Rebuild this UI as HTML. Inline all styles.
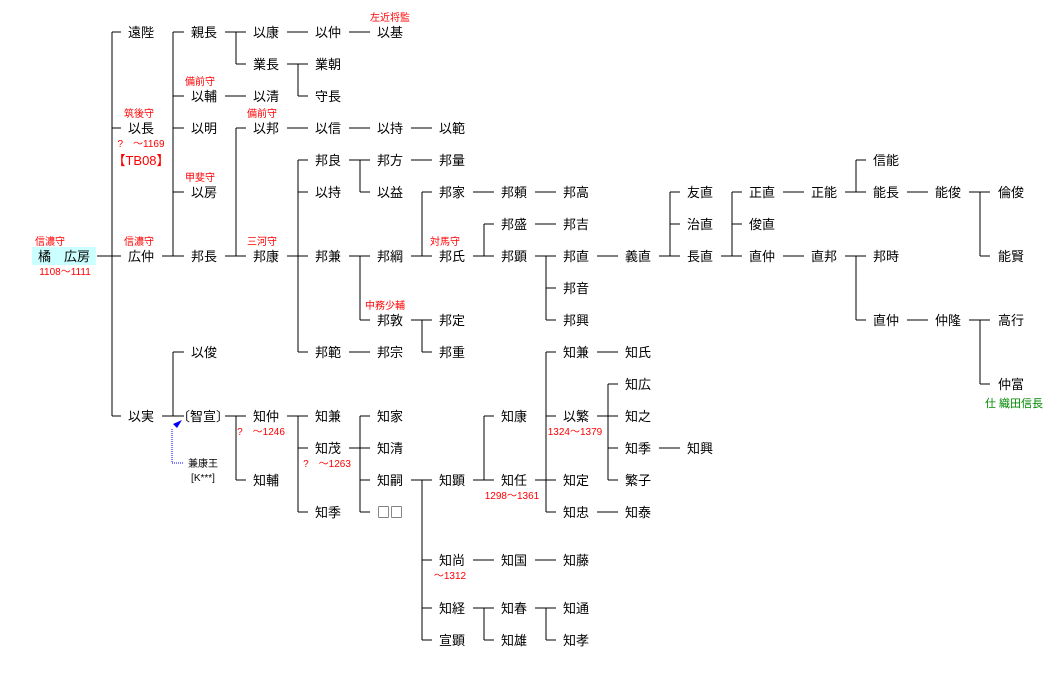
<!DOCTYPE html>
<html><head><meta charset="utf-8"><style>
html,body{margin:0;padding:0;background:#fff;}
svg{display:block;}
.n{font-family:"Liberation Sans","Noto Sans CJK JP",sans-serif;font-size:13px;fill:#000;text-anchor:middle;}
.b{font-family:"Noto Sans CJK JP",sans-serif;font-size:13px;fill:#000;text-anchor:middle;}
.r{font-family:"Liberation Sans","Noto Sans CJK JP",sans-serif;font-size:10px;fill:#f00;text-anchor:middle;}
.g{font-family:"Liberation Sans","Noto Sans CJK JP",sans-serif;font-size:11px;fill:#080;text-anchor:middle;}
.s{font-family:"Liberation Sans","Noto Sans CJK JP",sans-serif;font-size:10px;fill:#000;text-anchor:middle;}
</style></head><body>
<svg width="1045" height="673" viewBox="0 0 1045 673" xmlns="http://www.w3.org/2000/svg">
<rect x="32" y="247" width="64" height="18" fill="#ccffff"/>
<path fill="none" stroke="#000" stroke-width="1" shape-rendering="crispEdges" d="
M97 256H112 M112 32V416 M112 32H121 M112 128H121 M112 256H121 M112 416H121
M162 256H173 M173 32V256 M173 32H184 M173 96H184 M173 128H184 M173 192H184 M173 256H184
M225 32H236 M236 32V64 M236 32H246 M236 64H246
M287 32H308 M349 32H370
M287 64H298 M298 64V96 M298 64H308 M298 96H308
M225 96H246
M225 256H236 M236 128V256 M236 128H246 M236 256H246
M287 128H308 M349 128H370 M411 128H432
M287 256H298 M298 160V352 M298 160H308 M298 192H308 M298 256H308 M298 352H308
M349 160H360 M360 160V192 M360 160H370 M360 192H370
M411 160H432
M349 256H370 M360 256V320 M360 320H370
M349 352H370
M411 256H432 M422 192V256 M422 192H432
M411 320H432 M422 320V352 M422 352H432
M473 192H494 M535 192H556
M473 256H494 M484 224V256 M484 224H494
M535 224H556
M535 256H556 M546 256V320 M546 288H556 M546 320H556
M597 256H618
M659 256H680 M670 192V256 M670 192H680 M670 224H680
M721 256H742 M732 192V256 M732 192H742 M732 224H742
M783 192H804
M845 192H866 M856 160V192 M856 160H866
M907 192H928
M969 192H990 M980 192V256 M980 256H990
M783 256H804
M845 256H866 M856 256V320 M856 320H866
M907 320H928
M969 320H990 M980 320V384 M980 384H990
M162 416H184 M173 352V416 M173 352H184
M225 416H246 M236 416V480 M236 480H246
M287 416H308 M298 416V512 M298 448H308 M298 512H308
M349 448H370 M360 416V512 M360 416H370 M360 480H370 M360 512H370
M411 480H432 M422 480V640 M422 560H432 M422 608H432 M422 640H432
M473 480H494 M484 416V480 M484 416H494
M535 480H556 M546 352V512 M546 352H556 M546 416H556 M546 512H556
M597 352H618
M597 416H618 M608 384V480 M608 384H618 M608 448H618 M608 480H618
M659 448H680
M597 512H618
M473 560H494 M535 560H556
M473 608H494 M484 608V640 M484 640H494
M535 608H556 M546 608V640 M546 640H556
"/>
<path d="M183 463H172V428" fill="none" stroke="#00f" stroke-width="1" stroke-dasharray="1,1" shape-rendering="crispEdges"/>
<polygon points="182,420 173,424 177,428" fill="#00f"/>

<text class="n" x="64" y="261">橘　広房</text>
<text class="n" x="141" y="37">遠陛</text>
<text class="n" x="141" y="133">以長</text>
<text class="n" x="141" y="261">広仲</text>
<text class="n" x="141" y="421">以実</text>
<text class="n" x="204" y="37">親長</text>
<text class="n" x="204" y="101">以輔</text>
<text class="n" x="204" y="133">以明</text>
<text class="n" x="204" y="197">以房</text>
<text class="n" x="204" y="261">邦長</text>
<text class="n" x="204" y="357">以俊</text>
<text class="n" x="203" y="421">〔智宣〕</text>
<text class="n" x="266" y="37">以康</text>
<text class="n" x="266" y="69">業長</text>
<text class="n" x="266" y="101">以清</text>
<text class="n" x="266" y="133">以邦</text>
<text class="n" x="266" y="261">邦康</text>
<text class="n" x="266" y="421">知仲</text>
<text class="n" x="266" y="485">知輔</text>
<text class="n" x="328" y="37">以仲</text>
<text class="n" x="328" y="69">業朝</text>
<text class="n" x="328" y="101">守長</text>
<text class="n" x="328" y="133">以信</text>
<text class="n" x="328" y="165">邦良</text>
<text class="n" x="328" y="197">以持</text>
<text class="n" x="328" y="261">邦兼</text>
<text class="n" x="328" y="357">邦範</text>
<text class="n" x="328" y="421">知兼</text>
<text class="n" x="328" y="453">知茂</text>
<text class="n" x="328" y="517">知季</text>
<text class="n" x="390" y="37">以基</text>
<text class="n" x="390" y="133">以持</text>
<text class="n" x="390" y="165">邦方</text>
<text class="n" x="390" y="197">以益</text>
<text class="n" x="390" y="261">邦綱</text>
<text class="n" x="390" y="325">邦敦</text>
<text class="n" x="390" y="357">邦宗</text>
<text class="n" x="390" y="421">知家</text>
<text class="n" x="390" y="453">知清</text>
<text class="n" x="390" y="485">知嗣</text>
<text class="b" x="390" y="517">□□</text>
<text class="n" x="452" y="133">以範</text>
<text class="n" x="452" y="165">邦量</text>
<text class="n" x="452" y="197">邦家</text>
<text class="n" x="452" y="261">邦氏</text>
<text class="n" x="452" y="325">邦定</text>
<text class="n" x="452" y="357">邦重</text>
<text class="n" x="452" y="485">知顕</text>
<text class="n" x="452" y="565">知尚</text>
<text class="n" x="452" y="613">知経</text>
<text class="n" x="452" y="645">宣顕</text>
<text class="n" x="514" y="197">邦頼</text>
<text class="n" x="514" y="229">邦盛</text>
<text class="n" x="514" y="261">邦顕</text>
<text class="n" x="514" y="421">知康</text>
<text class="n" x="514" y="485">知任</text>
<text class="n" x="514" y="565">知国</text>
<text class="n" x="514" y="613">知春</text>
<text class="n" x="514" y="645">知雄</text>
<text class="n" x="576" y="197">邦高</text>
<text class="n" x="576" y="229">邦吉</text>
<text class="n" x="576" y="261">邦直</text>
<text class="n" x="576" y="293">邦音</text>
<text class="n" x="576" y="325">邦興</text>
<text class="n" x="576" y="357">知兼</text>
<text class="n" x="576" y="421">以繁</text>
<text class="n" x="576" y="485">知定</text>
<text class="n" x="576" y="517">知忠</text>
<text class="n" x="576" y="565">知藤</text>
<text class="n" x="576" y="613">知通</text>
<text class="n" x="576" y="645">知孝</text>
<text class="n" x="638" y="261">義直</text>
<text class="n" x="638" y="357">知氏</text>
<text class="n" x="638" y="389">知広</text>
<text class="n" x="638" y="421">知之</text>
<text class="n" x="638" y="453">知季</text>
<text class="n" x="638" y="485">繁子</text>
<text class="n" x="638" y="517">知泰</text>
<text class="n" x="700" y="197">友直</text>
<text class="n" x="700" y="229">治直</text>
<text class="n" x="700" y="261">長直</text>
<text class="n" x="700" y="453">知興</text>
<text class="n" x="762" y="197">正直</text>
<text class="n" x="762" y="229">俊直</text>
<text class="n" x="762" y="261">直仲</text>
<text class="n" x="824" y="197">正能</text>
<text class="n" x="824" y="261">直邦</text>
<text class="n" x="886" y="165">信能</text>
<text class="n" x="886" y="197">能長</text>
<text class="n" x="886" y="261">邦時</text>
<text class="n" x="886" y="325">直仲</text>
<text class="n" x="948" y="197">能俊</text>
<text class="n" x="948" y="325">仲隆</text>
<text class="n" x="1011" y="197">倫俊</text>
<text class="n" x="1011" y="261">能賢</text>
<text class="n" x="1011" y="325">高行</text>
<text class="n" x="1011" y="389">仲富</text>

<text class="r" x="50" y="245">信濃守</text>
<text class="r" x="65" y="275">1108～1111</text>
<text class="r" x="139" y="117">筑後守</text>
<text class="r" x="141" y="147">?　～1169</text>
<text class="r" x="141" y="165" style="font-size:13px">【TB08】</text>
<text class="r" x="139" y="245">信濃守</text>
<text class="r" x="200" y="85">備前守</text>
<text class="r" x="200" y="181">甲斐守</text>
<text class="r" x="262" y="117">備前守</text>
<text class="r" x="262" y="245">三河守</text>
<text class="r" x="390" y="21">左近将監</text>
<text class="r" x="445" y="245">対馬守</text>
<text class="r" x="385" y="309">中務少輔</text>
<text class="r" x="261" y="435">?　～1246</text>
<text class="r" x="327" y="467">?　～1263</text>
<text class="r" x="450" y="579">～1312</text>
<text class="r" x="512" y="499">1298～1361</text>
<text class="r" x="575" y="435">1324～1379</text>
<text class="g" x="1014" y="407">仕 織田信長</text>
<text class="s" x="203" y="467">兼康王</text>
<text class="s" x="203" y="481">[K***]</text>
</svg>
</body></html>
